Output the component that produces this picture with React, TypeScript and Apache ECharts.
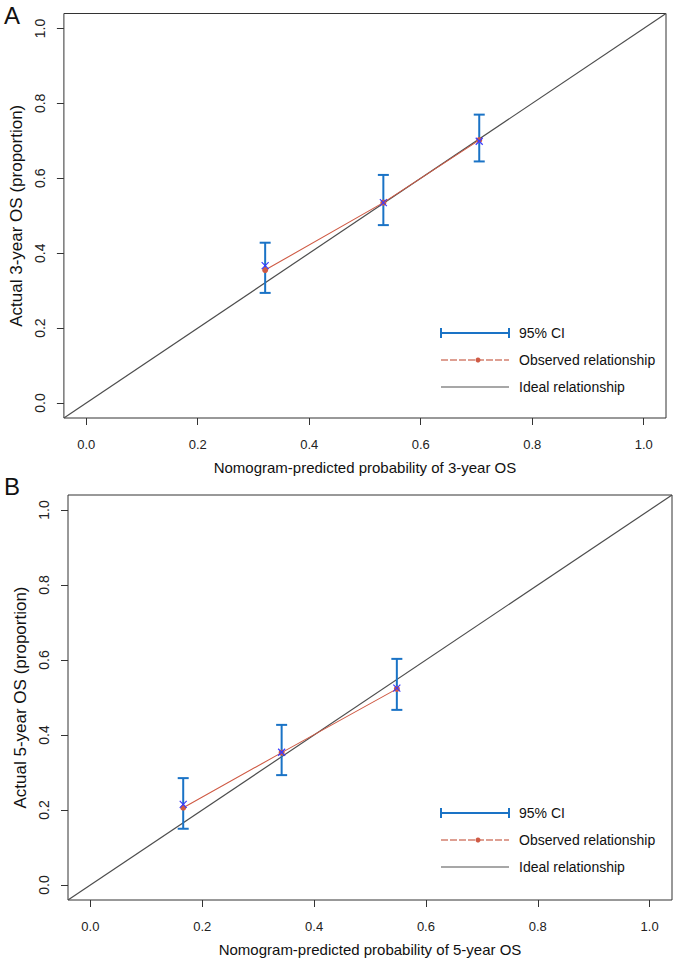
import React, { useEffect, useRef } from "react";
import * as echarts from "echarts";

// Tick values shared by both axes of both panels
const tickValues = [0, 0.2, 0.4, 0.6, 0.8, 1.0];

// Panel A: 3-year OS
const predA = [0.321, 0.533, 0.705];
const observedA = [0.355, 0.535, 0.702];
const correctedA = [0.367, 0.535, 0.699];
const lowerA = [0.294, 0.475, 0.645];
const upperA = [0.428, 0.609, 0.77];

// Panel B: 5-year OS
const predB = [0.166, 0.342, 0.548];
const observedB = [0.206, 0.353, 0.523];
const correctedB = [0.215, 0.354, 0.525];
const lowerB = [0.15, 0.293, 0.467];
const upperB = [0.285, 0.427, 0.603];

const panelTitles = ["A", "B"];
const xTitles = [
  "Nomogram-predicted probability of 3-year OS",
  "Nomogram-predicted probability of 5-year OS",
];
const yTitles = ["Actual 3-year OS (proportion)", "Actual 5-year OS (proportion)"];
const legendLabels = ["95% CI", "Observed relationship", "Ideal relationship"];

const FONT = "'Liberation Sans', Arial, sans-serif";
const BLUE_BAR = "#1a73c6";
const RED = "#cf5a44";
const XBLUE = "#3a3aff";
const IDEAL = "#4d4d4d";
const AXIS = "#333333";

const AXIS_MIN = -0.04;
const AXIS_MAX = 1.04;

function makeAxes(gridIndex: number, kind: "x" | "y") {
  const isX = kind === "x";
  return {
    type: "value",
    gridIndex,
    min: AXIS_MIN,
    max: AXIS_MAX,
    name: isX ? xTitles[gridIndex] : yTitles[gridIndex],
    nameLocation: "middle",
    nameGap: isX ? 42 : 31,
    nameTextStyle: {
      fontFamily: FONT,
      fontSize: isX ? 15 : 17,
      color: "#111",
    },
    axisLine: { show: false, onZero: false },
    splitLine: { show: false },
    axisTick: {
      show: true,
      inside: false,
      length: 7,
      customValues: tickValues,
      lineStyle: { color: AXIS, width: 1 },
    },
    axisLabel: {
      show: true,
      customValues: tickValues,
      formatter: (v: number) => v.toFixed(1),
      rotate: isX ? 0 : 90,
      margin: isX ? 20 : 17,
      fontFamily: FONT,
      fontSize: isX ? 13 : 14,
      color: "#222",
    },
  };
}

function errorRender(params: any, api: any) {
  const x = api.value(0);
  const lo = api.value(1);
  const hi = api.value(2);
  const p1 = api.coord([x, lo]);
  const p2 = api.coord([x, hi]);
  const cap = 5.5;
  const style = { stroke: BLUE_BAR, lineWidth: 2 };
  return {
    type: "group",
    children: [
      { type: "line", shape: { x1: p1[0], y1: p1[1], x2: p2[0], y2: p2[1] }, style },
      { type: "line", shape: { x1: p1[0] - cap, y1: p1[1], x2: p1[0] + cap, y2: p1[1] }, style },
      { type: "line", shape: { x1: p2[0] - cap, y1: p2[1], x2: p2[0] + cap, y2: p2[1] }, style },
    ],
  };
}

function crossRender(params: any, api: any) {
  const p = api.coord([api.value(0), api.value(1)]);
  const s = 3.5;
  const style = { stroke: XBLUE, lineWidth: 1.2 };
  return {
    type: "group",
    children: [
      { type: "line", shape: { x1: p[0] - s, y1: p[1] - s, x2: p[0] + s, y2: p[1] + s }, style },
      { type: "line", shape: { x1: p[0] - s, y1: p[1] + s, x2: p[0] + s, y2: p[1] - s }, style },
    ],
  };
}

function panelSeries(
  idx: number,
  pred: number[],
  obs: number[],
  corr: number[],
  lo: number[],
  hi: number[]
) {
  return [
    {
      type: "line",
      xAxisIndex: idx,
      yAxisIndex: idx,
      data: [
        [AXIS_MIN, AXIS_MIN],
        [AXIS_MAX, AXIS_MAX],
      ],
      symbol: "none",
      lineStyle: { color: IDEAL, width: 1.2 },
      silent: true,
      z: 2,
    },
    {
      type: "custom",
      xAxisIndex: idx,
      yAxisIndex: idx,
      renderItem: errorRender,
      encode: { x: 0, y: [1, 2] },
      data: pred.map((p, i) => [p, lo[i], hi[i]]),
      z: 3,
    },
    {
      type: "line",
      xAxisIndex: idx,
      yAxisIndex: idx,
      data: pred.map((p, i) => [p, obs[i]]),
      symbol: "circle",
      symbolSize: 6,
      itemStyle: { color: RED },
      lineStyle: { color: RED, width: 1.1 },
      z: 4,
    },
    {
      type: "custom",
      xAxisIndex: idx,
      yAxisIndex: idx,
      renderItem: crossRender,
      encode: { x: 0, y: 1 },
      data: pred.map((p, i) => [p, corr[i]]),
      z: 5,
    },
  ];
}

function legendGraphics(x0: number, y0: number) {
  const rows = [y0, y0 + 27, y0 + 54];
  const items: any[] = [];
  // CI
  items.push({
    type: "line",
    shape: { x1: x0, y1: rows[0], x2: x0 + 68, y2: rows[0] },
    style: { stroke: BLUE_BAR, lineWidth: 2 },
  });
  items.push({
    type: "line",
    shape: { x1: x0, y1: rows[0] - 5, x2: x0, y2: rows[0] + 5 },
    style: { stroke: BLUE_BAR, lineWidth: 2 },
  });
  items.push({
    type: "line",
    shape: { x1: x0 + 68, y1: rows[0] - 5, x2: x0 + 68, y2: rows[0] + 5 },
    style: { stroke: BLUE_BAR, lineWidth: 2 },
  });
  // Observed
  items.push({
    type: "line",
    shape: { x1: x0, y1: rows[1], x2: x0 + 68, y2: rows[1] },
    style: { stroke: "#d4806f", lineWidth: 1.5, lineDash: [7, 2] },
  });
  items.push({
    type: "circle",
    shape: { cx: x0 + 37, cy: rows[1], r: 2.5 },
    style: { fill: RED },
  });
  // Ideal
  items.push({
    type: "line",
    shape: { x1: x0, y1: rows[2], x2: x0 + 68, y2: rows[2] },
    style: { stroke: "#8a8a8a", lineWidth: 1.5 },
  });
  legendLabels.forEach((t, i) => {
    items.push({
      type: "text",
      x: x0 + 78,
      y: rows[i],
      style: {
        text: t,
        fontFamily: FONT,
        fontSize: 14,
        fill: "#111",
        verticalAlign: "middle",
        align: "left",
      },
    });
  });
  return items;
}

export default function App() {
  const ref = useRef<HTMLDivElement>(null);
  useEffect(() => {
    document.body.style.margin = "0";
    if (!ref.current) return;
    const chart = echarts.init(ref.current, null, { renderer: "svg" });
    const option: any = {
      animation: false,
      backgroundColor: "#ffffff",
      grid: [
        {
          left: 62.5,
          top: 13.5,
          width: 603.5,
          height: 404.5,
          show: true,
          borderColor: AXIS,
          borderWidth: 1,
          backgroundColor: "transparent",
        },
        {
          left: 68,
          top: 495,
          width: 604,
          height: 405,
          show: true,
          borderColor: AXIS,
          borderWidth: 1,
          backgroundColor: "transparent",
        },
      ],
      xAxis: [makeAxes(0, "x"), makeAxes(1, "x")],
      yAxis: [makeAxes(0, "y"), makeAxes(1, "y")],
      series: [
        ...panelSeries(0, predA, observedA, correctedA, lowerA, upperA),
        ...panelSeries(1, predB, observedB, correctedB, lowerB, upperB),
      ],
      graphic: [
        {
          type: "text",
          left: 4,
          top: 3,
          style: { text: panelTitles[0], fontFamily: FONT, fontSize: 24, fill: "#111" },
        },
        {
          type: "text",
          left: 4,
          top: 474,
          style: { text: panelTitles[1], fontFamily: FONT, fontSize: 24, fill: "#111" },
        },
        ...legendGraphics(441, 333),
        ...legendGraphics(441, 813),
      ],
    };
    chart.setOption(option);
    return () => chart.dispose();
  }, []);
  return (
    <div
      ref={ref}
      style={{ position: "absolute", left: 0, top: 0, width: 675, height: 959 }}
    />
  );
}
